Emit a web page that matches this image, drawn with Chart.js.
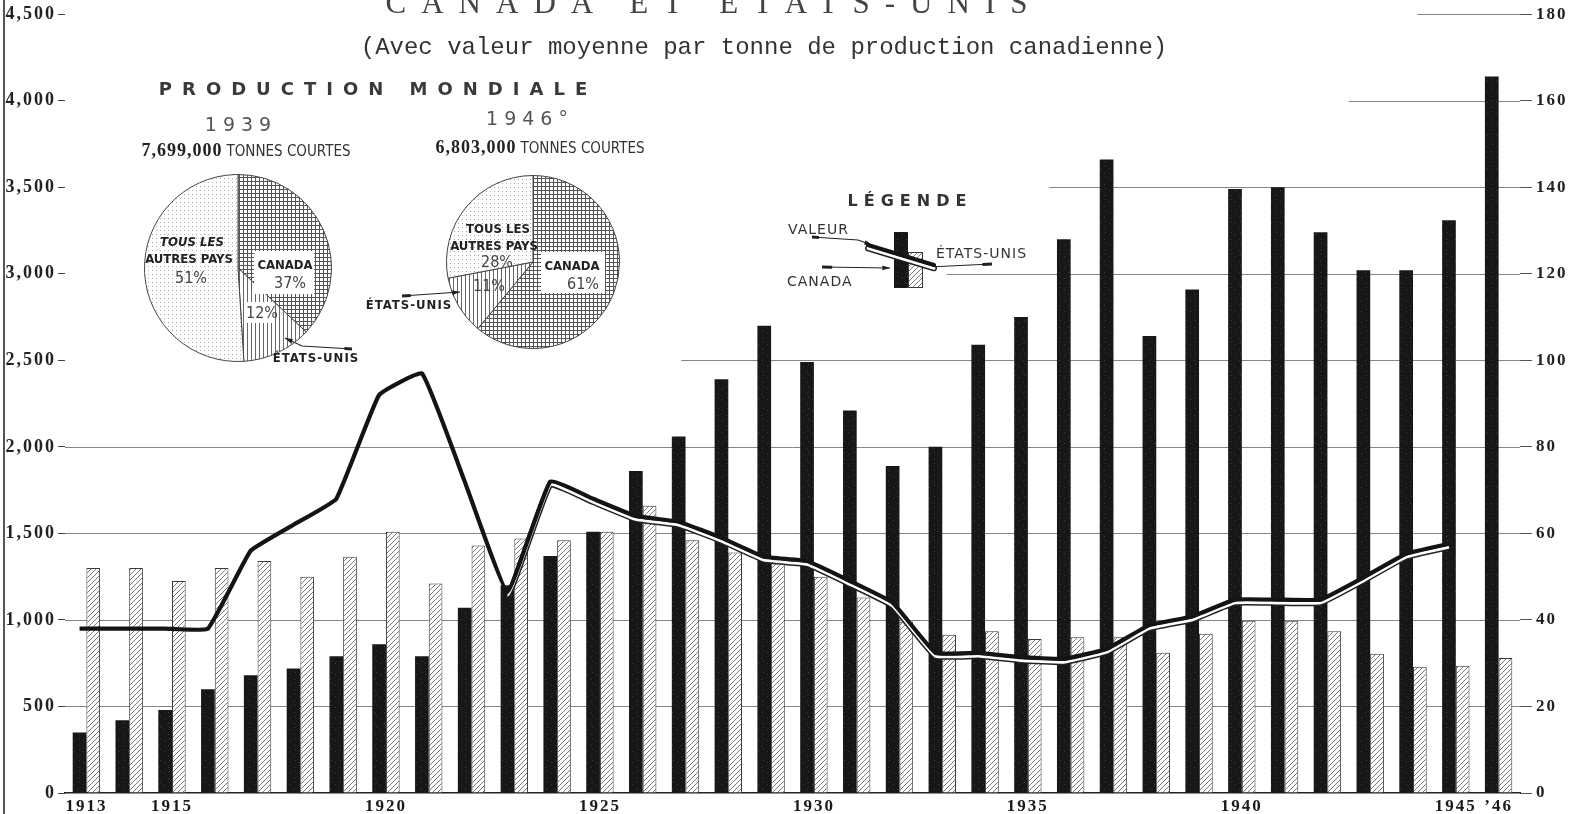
<!DOCTYPE html>
<html lang="fr">
<head>
<meta charset="utf-8">
<title>Canada et États-Unis</title>
<script src="https://cdn.jsdelivr.net/npm/chart.js@4.4.1/dist/chart.umd.min.js"></script>
<style>
html,body{margin:0;padding:0;background:#fff;}
#wrap{position:relative;width:1580px;height:814px;overflow:hidden;background:#fff;}
canvas{position:absolute;left:0;top:0;}
.t{position:absolute;white-space:nowrap;line-height:1;transform:translate(-50%,-50%);color:#2a2a2a;}
.l{position:absolute;white-space:nowrap;line-height:1;transform:translateY(-50%);color:#333;}
.title{font:31px 'Liberation Serif';letter-spacing:15px;color:#444;}
.sub{font:24px 'Liberation Mono';color:#333;}
.mond{font:bold 18px 'DejaVu Sans';letter-spacing:10px;color:#3a3a3a;}
.yr{font:19px 'DejaVu Sans';letter-spacing:6px;color:#555;}
.tot b{font:bold 18px 'Liberation Serif';letter-spacing:1px;color:#222;}
.tot span{font:15px 'DejaVu Sans Condensed';color:#333;}
.pl{font:bold 13px 'DejaVu Sans Condensed';color:#222;}
.pli{font:italic bold 13px 'DejaVu Sans Condensed';color:#222;}
.pct{font:16px 'DejaVu Sans Condensed';color:#444;}
.box{position:absolute;background:#fff;}
.lg{font:14px 'DejaVu Sans';letter-spacing:1px;color:#333;}
.lgt{font:bold 16px 'DejaVu Sans';letter-spacing:6px;color:#333;}
#frame{position:absolute;left:3px;top:0;width:2px;height:814px;background:#555;}
</style>
</head>
<body>
<div id="wrap">
  <canvas id="chart" width="1580" height="814"></canvas>
  <div id="frame"></div>

  <canvas id="pie1" width="190" height="190" style="left:143px;top:173px;"></canvas>
  <canvas id="pie2" width="176" height="176" style="left:445px;top:174px;"></canvas>
  <div class="box" style="left:254px;top:251px;width:60px;height:43px;"></div>
  <div class="box" style="left:246px;top:302px;width:26px;height:21px;"></div>
  <div class="box" style="left:541px;top:252px;width:64px;height:41px;"></div>
  <canvas id="deco" width="1580" height="814"></canvas>

  <div class="t title" style="left:714px;top:3px;">CANADA ET ÉTATS-UNIS</div>
  <div class="t sub" style="left:764px;top:47px;">(Avec valeur moyenne par tonne de production canadienne)</div>
  <div class="t mond" style="left:378px;top:88px;">PRODUCTION MONDIALE</div>
  <div class="t yr" style="left:241px;top:124px;">1939</div>
  <div class="t yr" style="left:530px;top:118px;">1946°</div>
  <div class="t tot" style="left:246px;top:150px;"><b>7,699,000</b> <span>TONNES COURTES</span></div>
  <div class="t tot" style="left:540px;top:147px;"><b>6,803,000</b> <span>TONNES COURTES</span></div>

  <div class="t pli" style="left:192px;top:241px;">TOUS LES</div>
  <div class="t pl" style="left:189px;top:258px;">AUTRES PAYS</div>
  <div class="t pct" style="left:191px;top:277px;">51%</div>
  <div class="t pl" style="left:285px;top:264px;">CANADA</div>
  <div class="t pct" style="left:290px;top:282px;">37%</div>
  <div class="t pct" style="left:262px;top:312px;">12%</div>
  <div class="t pl" style="left:316px;top:357px;letter-spacing:1px;">ÉTATS-UNIS</div>

  <div class="t pl" style="left:498px;top:228px;">TOUS LES</div>
  <div class="t pl" style="left:494px;top:245px;">AUTRES PAYS</div>
  <div class="t pct" style="left:497px;top:261px;">28%</div>
  <div class="t pl" style="left:572px;top:265px;">CANADA</div>
  <div class="t pct" style="left:583px;top:283px;">61%</div>
  <div class="t pct" style="left:489px;top:285px;">11%</div>
  <div class="t pl" style="left:409px;top:304px;letter-spacing:1px;">ÉTATS-UNIS</div>

  <div class="t lgt" style="left:910px;top:200px;">LÉGENDE</div>
  <div class="l lg" style="left:788px;top:229px;">VALEUR</div>
  <div class="l lg" style="left:936px;top:253px;">ÉTATS-UNIS</div>
  <div class="l lg" style="left:787px;top:281px;">CANADA</div>
</div>

<script>
// Données
var annees = ['1913','1914','1915','1916','1917','1918','1919','1920','1921','1922','1923','1924',
  '1925','1926','1927','1928','1929','1930','1931','1932','1933','1934','1935','1936','1937',
  '1938','1939','1940','1941','1942','1943','1944','1945','1946'];
// milliers de tonnes courtes (échelle de gauche)
var canada = [350,420,480,600,680,720,790,860,790,1070,1200,1370,1510,1860,2060,2390,2700,2490,
  2210,1890,2000,2590,2750,3200,3660,2640,2910,3490,3500,3240,3020,3020,3310,4140];
var etatsUnis = [1300,1300,1225,1300,1340,1250,1365,1510,1210,1430,1470,1460,1510,1660,1460,1390,
  1335,1250,1130,990,915,935,890,900,900,810,920,995,995,935,805,730,735,780];
// valeur moyenne par tonne, dollars (échelle de droite)
var valeur = [38,38,38,38,56,62,68,92,97,72,46.5,72,68,64,62.7,59,54.6,53.6,49,44,32.4,32.4,31.4,
  31,33.3,38.8,40.8,44.7,44.7,44.7,49.8,55.3,57.6,null];
var anneesAffichees = ['1913','1915','1920','1925','1930','1935','1940','1945','1946'];
// production mondiale
var pieLabels = ['Canada','États-Unis','Tous les autres pays'];
var monde1939 = [37,12,51];
var monde1946 = [61,11,28];

var catPct = 0.64;
// début des lignes de grille (en largeurs de catégorie depuis la gauche)
var debutGrille = {2500:14.4, 3000:20.6, 3500:23, 4000:30, 4500:31.6};

function motif(w, h, dessin){
  var c = document.createElement('canvas'); c.width = w; c.height = h;
  var g = c.getContext('2d');
  dessin(g, w, h);
  return g.createPattern(c, 'repeat');
}
var hachure = motif(5, 5, function(g, w, h){
  g.fillStyle = '#fff'; g.fillRect(0,0,w,h);
  g.strokeStyle = '#6a6a6a'; g.lineWidth = 0.9;
  g.beginPath();
  g.moveTo(0,h); g.lineTo(w,0);
  g.moveTo(-w,h); g.lineTo(0,0);
  g.moveTo(w,2*h); g.lineTo(2*w,h);
  g.stroke();
});
var noir = motif(9, 11, function(g, w, h){
  g.fillStyle = '#171717'; g.fillRect(0,0,w,h);
  g.fillStyle = '#3c3c3c'; g.fillRect(2,3,1,1); g.fillRect(6,8,1,1); g.fillRect(7,1,1,1);
});
var quadrille = motif(4, 4, function(g, w, h){
  g.fillStyle = '#fff'; g.fillRect(0,0,w,h);
  g.fillStyle = '#555'; g.fillRect(0,0,w,1); g.fillRect(0,0,1,h);
});
var verticales = motif(4, 4, function(g, w, h){
  g.fillStyle = '#fff'; g.fillRect(0,0,w,h);
  g.fillStyle = '#666'; g.fillRect(0,0,1,h);
});
var points = motif(4, 4, function(g, w, h){
  g.fillStyle = '#fff'; g.fillRect(0,0,w,h);
  g.fillStyle = '#aaa'; g.fillRect(1,1,1,1);
});

function largeurCat(chart){
  var x = chart.scales.x;
  return x.getPixelForValue(1) - x.getPixelForValue(0);
}

var grillePartielle = {
  id: 'grillePartielle',
  beforeDraw: function(chart){ chart.ctx.letterSpacing = '2px'; },
  beforeDatasetsDraw: function(chart){
    var g = chart.ctx, a = chart.chartArea, y = chart.scales.y, cw = largeurCat(chart);
    g.save();
    g.strokeStyle = '#858585'; g.lineWidth = 1;
    for (var v = 500; v <= 4500; v += 500){
      var py = Math.round(y.getPixelForValue(v)) + 0.5;
      var x0 = a.left + (debutGrille[v] || 0) * cw;
      g.beginPath(); g.moveTo(x0, py); g.lineTo(a.right, py); g.stroke();
    }
    g.restore();
  },
  beforeDatasetDraw: function(chart, args){
    var ds = chart.data.datasets[args.index];
    if (ds.decalY === undefined) return;
    var dx = -largeurCat(chart) * catPct / 4;
    chart.ctx.save();
    chart.ctx.translate(dx, ds.decalY);
  },
  afterDatasetDraw: function(chart, args){
    var ds = chart.data.datasets[args.index];
    if (ds.decalY === undefined) return;
    chart.ctx.restore();
  }
};

function apres(debut, coul){
  return function(c){ return c.p0DataIndex >= debut ? coul : 'rgba(0,0,0,0)'; };
}

var config = {
  type: 'bar',
  data: {
    labels: annees,
    datasets: [
      { type:'line', label:'Valeur', data: valeur, yAxisID:'y2', borderColor:'#141414',
        borderWidth:4.2, pointRadius:0, tension:0.1, order:0, decalY:0, spanGaps:false },
      { type:'line', label:'_blanc', data: valeur, yAxisID:'y2', borderColor:'#fff',
        borderWidth:3, pointRadius:0, tension:0.1, order:1, decalY:3.3,
        segment:{ borderColor: apres(10, '#fff') } },
      { type:'line', label:'_bord', data: valeur, yAxisID:'y2', borderColor:'#222',
        borderWidth:6, pointRadius:0, tension:0.1, order:2, decalY:3.3,
        segment:{ borderColor: apres(10, '#222') } },
      { label:'Canada', data: canada, yAxisID:'y', backgroundColor: noir,
        borderWidth:0, order:5, categoryPercentage:catPct, barPercentage:1 },
      { label:'États-Unis', data: etatsUnis, yAxisID:'y', backgroundColor: hachure,
        borderColor:'#3a3a3a', borderWidth:1, borderSkipped:'bottom', order:5,
        categoryPercentage:catPct, barPercentage:1 }
    ]
  },
  options: {
    responsive: false,
    animation: false,
    layout: { padding: { top: 14, left: 0, right: 0, bottom: 0 } },
    plugins: { legend: { display:false }, tooltip: { enabled:false }, title: { display:false } },
    scales: {
      x: {
        offset: true,
        grid: { display:false, drawTicks:false },
        border: { display:true, color:'#222', width:1.6 },
        ticks: {
          autoSkip:false, maxRotation:0, padding:3, color:'#1a1a1a',
          font: { family:'Liberation Serif', size:17, weight:'bold' },
          callback: function(v, i){
            var a = annees[i];
            if (anneesAffichees.indexOf(a) < 0) return '';
            return a === '1946' ? '\u2019' + a.slice(2) : a;
          }
        },
        afterFit: function(s){ s.height = 21; }
      },
      y: {
        position:'left', min:0, max:4500,
        grid: { drawOnChartArea:false, drawTicks:true, tickLength:7, color:'#444' },
        border: { display:false },
        ticks: {
          stepSize:500, padding:2, color:'#222',
          font: { family:'Liberation Serif', size:18, weight:'bold' },
          callback: function(v){ return v.toLocaleString('en-US'); }
        },
        afterFit: function(s){ s.width = 65; }
      },
      y2: {
        position:'right', min:0, max:180,
        grid: { drawOnChartArea:false, drawTicks:true, tickLength:12, color:'#555' },
        border: { display:false },
        ticks: {
          stepSize:20, padding:4, color:'#222',
          font: { family:'Liberation Serif', size:17, weight:'bold' }
        },
        afterFit: function(s){ s.width = 60; }
      }
    }
  },
  plugins: [grillePartielle]
};

var ctx = document.getElementById('chart').getContext('2d');
window.graphique = new Chart(ctx, config);

function configPie(donnees){
  return {
    type: 'pie',
    data: { labels: pieLabels,
      datasets: [{ data: donnees, backgroundColor:[quadrille, verticales, points],
        borderColor:'#444', borderWidth:1 }] },
    options: { responsive:false, animation:false, layout:{ padding:1 },
      plugins:{ legend:{ display:false }, tooltip:{ enabled:false } } }
  };
}
window.pie1 = new Chart(document.getElementById('pie1').getContext('2d'), configPie(monde1939));
window.pie2 = new Chart(document.getElementById('pie2').getContext('2d'), configPie(monde1946));

// flèches et petit dessin de la légende
var d = document.getElementById('deco').getContext('2d');
function fleche(pts){
  d.strokeStyle = '#222'; d.fillStyle = '#222'; d.lineWidth = 1.2;
  d.beginPath(); d.moveTo(pts[0][0], pts[0][1]);
  for (var i = 1; i < pts.length; i++) d.lineTo(pts[i][0], pts[i][1]);
  d.stroke();
  var p1 = pts[pts.length-2], p2 = pts[pts.length-1];
  var a = Math.atan2(p2[1]-p1[1], p2[0]-p1[0]);
  d.beginPath(); d.moveTo(p2[0], p2[1]);
  d.lineTo(p2[0]-8*Math.cos(a-0.3), p2[1]-8*Math.sin(a-0.3));
  d.lineTo(p2[0]-8*Math.cos(a+0.3), p2[1]-8*Math.sin(a+0.3));
  d.closePath(); d.fill();
  d.lineWidth = 3;
  d.beginPath(); d.moveTo(pts[0][0], pts[0][1]);
  var q = pts[1];
  d.lineTo(pts[0][0] + (q[0]-pts[0][0])*0.15, pts[0][1] + (q[1]-pts[0][1])*0.15);
  d.stroke();
}
fleche([[352,349],[302,346],[285,338]]);
fleche([[402,296],[460,292]]);
fleche([[812,237],[858,240],[872,245]]);
fleche([[822,267],[890,268]]);
fleche([[992,264],[928,267]]);

d.fillStyle = noir; d.fillRect(894, 232, 14, 56);
d.fillStyle = hachure; d.fillRect(908, 252, 15, 36);
d.strokeStyle = '#3a3a3a'; d.lineWidth = 1; d.strokeRect(908.5, 252.5, 14, 35);
d.lineCap = 'round';
d.strokeStyle = '#222'; d.lineWidth = 6;
d.beginPath(); d.moveTo(868, 248.3); d.lineTo(934, 268.3); d.stroke();
d.strokeStyle = '#fff'; d.lineWidth = 3;
d.beginPath(); d.moveTo(868, 248.3); d.lineTo(934, 268.3); d.stroke();
d.strokeStyle = '#141414'; d.lineWidth = 4.2;
d.beginPath(); d.moveTo(868, 245); d.lineTo(934, 265); d.stroke();
</script>
</body>
</html>
